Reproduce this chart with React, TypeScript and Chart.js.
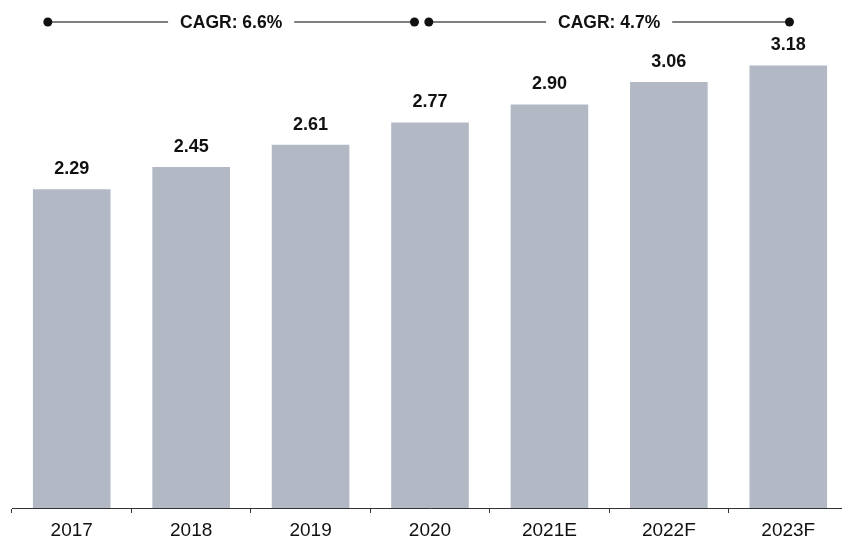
import React, { useEffect, useRef } from "react";
import { Chart, registerables } from "chart.js";

Chart.register(...registerables);

const categories = ["2017", "2018", "2019", "2020", "2021E", "2022F", "2023F"];
const values = [2.29, 2.45, 2.61, 2.77, 2.9, 3.06, 3.18];
const cagrLabels = ["CAGR: 6.6%", "CAGR: 4.7%"];
// segments in category-index units: [start, end]
const cagrSpans: [number, number][] = [
  [-0.2, 2.87],
  [2.99, 6.01],
];

const FONT = "'Liberation Sans', Arial, sans-serif";

const overlayPlugin = {
  id: "overlay",
  afterDatasetsDraw(chart: any) {
    const ctx = chart.ctx;
    const meta = chart.getDatasetMeta(0);
    ctx.save();
    // value labels
    ctx.fillStyle = "#111";
    ctx.font = `bold 18px ${FONT}`;
    ctx.textAlign = "center";
    ctx.textBaseline = "alphabetic";
    meta.data.forEach((bar: any, i: number) => {
      ctx.fillText(values[i].toFixed(2), bar.x, bar.y - 15);
    });
    // CAGR annotations
    const xs = chart.scales.x;
    const y = 22;
    ctx.font = `bold 17.5px ${FONT}`;
    ctx.textBaseline = "middle";
    cagrSpans.forEach(([a, b], k) => {
      const x1 = xs.getPixelForValue(a);
      const x2 = xs.getPixelForValue(b);
      const mid = (x1 + x2) / 2;
      const w = ctx.measureText(cagrLabels[k]).width;
      const gap = 12;
      ctx.strokeStyle = "#555";
      ctx.lineWidth = 1.5;
      ctx.beginPath();
      ctx.moveTo(x1, y);
      ctx.lineTo(mid - w / 2 - gap, y);
      ctx.moveTo(mid + w / 2 + gap, y);
      ctx.lineTo(x2, y);
      ctx.stroke();
      ctx.fillStyle = "#111";
      ctx.fillText(cagrLabels[k], mid, y + 1);
      [x1, x2].forEach((x) => {
        ctx.beginPath();
        ctx.arc(x, y, 4.5, 0, Math.PI * 2);
        ctx.fill();
      });
    });
    ctx.restore();
  },
};

export default function App() {
  const ref = useRef<HTMLCanvasElement>(null);
  useEffect(() => {
    if (!ref.current) return;
    const chart = new Chart(ref.current, {
      type: "bar",
      data: {
        labels: categories,
        datasets: [
          {
            data: values,
            backgroundColor: "#b2b9c5",
            barPercentage: 0.65,
            categoryPercentage: 1,
          },
        ],
      },
      options: {
        animation: false,
        responsive: false,
        maintainAspectRatio: false,
        layout: { padding: { left: 12, right: 2, top: 0, bottom: 0 } },
        plugins: { legend: { display: false }, tooltip: { enabled: false } },
        scales: {
          y: { display: false, min: 0, max: 3.65 },
          x: {
            offset: true,
            afterFit: (s: any) => {
              s.height = 33;
            },
            grid: {
              offset: true,
              drawOnChartArea: false,
              drawTicks: true,
              tickLength: 5,
              color: "#333",
            },
            border: { display: true, color: "#333", width: 1 },
            ticks: {
              color: "#111",
              font: { family: FONT, size: 19 },
              padding: 6,
            },
          },
        },
      },
      plugins: [overlayPlugin],
    });
    return () => chart.destroy();
  }, []);
  return (
    <div style={{ position: "fixed", left: 0, top: 0, width: 850, height: 541, background: "#fff" }}>
      <canvas ref={ref} width={850} height={541} style={{ width: 850, height: 541 }} />
    </div>
  );
}
